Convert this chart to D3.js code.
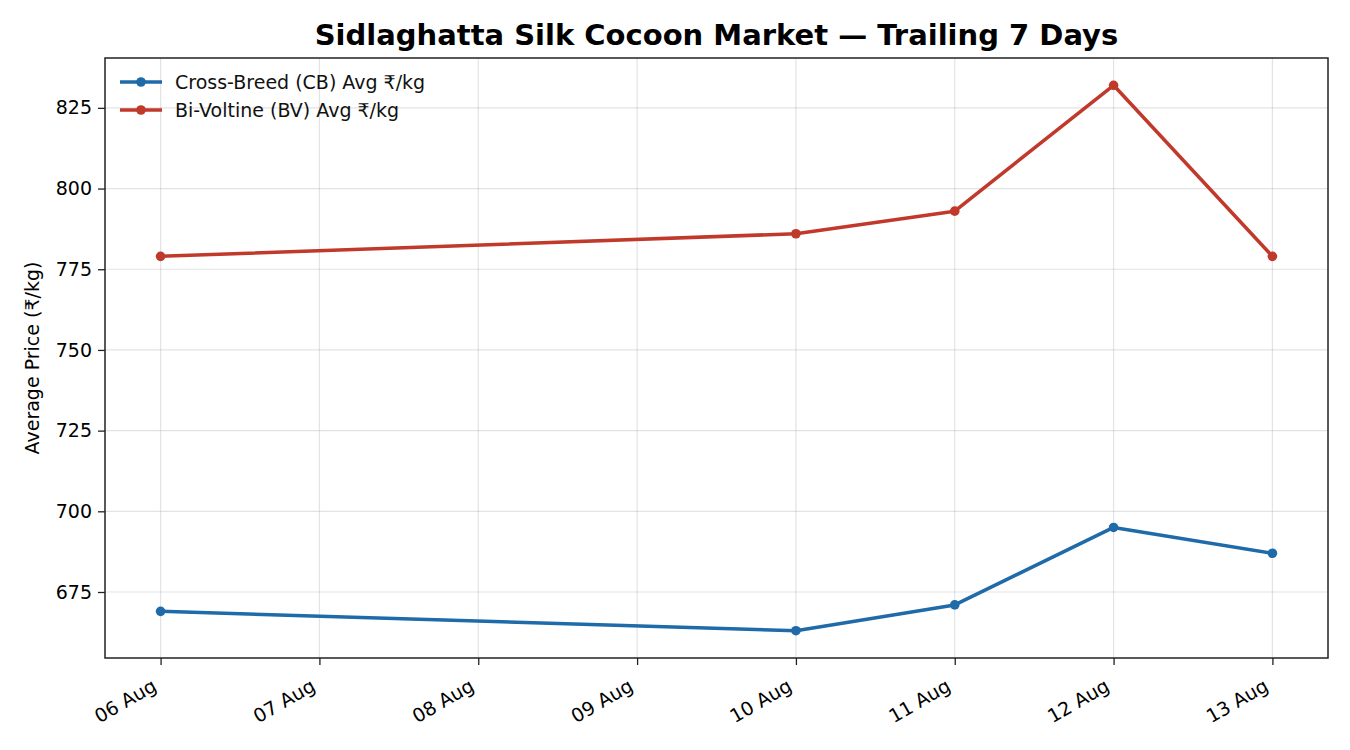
<!DOCTYPE html>
<html>
<head>
<meta charset="utf-8">
<script src="https://cdn.jsdelivr.net/npm/d3@7"></script>
<style>
  body { margin: 0; background: #fff; }
  svg, svg text { font-family: "DejaVu Sans", sans-serif; }
</style>
</head>
<body>
<svg id="chart"></svg>
<script>
// data
const dates = ["2024-08-06", "2024-08-10", "2024-08-11", "2024-08-12", "2024-08-13"];
const cbAvg = [669, 663, 671, 695, 687];
const bvAvg = [779, 786, 793, 832, 779];
const yTicks = [675, 700, 725, 750, 775, 800, 825];
const seriesNames = ["Cross-Breed (CB) Avg ₹/kg", "Bi-Voltine (BV) Avg ₹/kg"];
const seriesColors = ["#1f6aa8", "#c0392b"];

const width = 1350, height = 750;
const margin = { top: 58, right: 22, bottom: 92, left: 105 };
const innerW = width - margin.left - margin.right;
const innerH = height - margin.top - margin.bottom;
const fontSize = "19px";

const parse = d3.timeParse("%Y-%m-%d");
const days = dates.map(parse);

const series = [cbAvg, bvAvg].map((vals, i) => ({
    name: seriesNames[i],
    color: seriesColors[i],
    values: vals.map((v, j) => ({ date: days[j], value: v }))
}));

const svg = d3.select("#chart").attr("width", width).attr("height", height);

// matplotlib-like 5% padding on both axes
const xExt = d3.extent(days);
const xPad = (xExt[1] - xExt[0]) * 0.05;
const x = d3.scaleTime()
    .domain([new Date(+xExt[0] - xPad), new Date(+xExt[1] + xPad)])
    .range([0, innerW]);

const allVals = cbAvg.concat(bvAvg);
const yMin = d3.min(allVals), yMax = d3.max(allVals);
const yPad = (yMax - yMin) * 0.05;
const y = d3.scaleLinear()
    .domain([yMin - yPad, yMax + yPad])
    .range([innerH, 0]);

const xTicks = d3.timeDay.range(xExt[0], d3.timeDay.offset(xExt[1], 1));

const g = svg.append("g").attr("transform", `translate(${margin.left},${margin.top})`);

// grid
g.append("g")
    .selectAll("line")
    .data(xTicks)
    .enter().append("line")
    .attr("x1", d => x(d)).attr("x2", d => x(d))
    .attr("y1", 0).attr("y2", innerH)
    .attr("stroke", "#b0b0b0").attr("stroke-opacity", 0.35).attr("stroke-width", 1.2);

g.append("g")
    .selectAll("line")
    .data(yTicks)
    .enter().append("line")
    .attr("x1", 0).attr("x2", innerW)
    .attr("y1", d => y(d)).attr("y2", d => y(d))
    .attr("stroke", "#b0b0b0").attr("stroke-opacity", 0.35).attr("stroke-width", 1.2);

// axes
const xAxis = g.append("g")
    .attr("transform", `translate(0,${innerH})`)
    .call(d3.axisBottom(x).tickValues(xTicks).tickFormat(d3.timeFormat("%d %b")).tickSize(7).tickSizeOuter(0));
xAxis.attr("font-family", null).attr("font-size", null);
xAxis.select(".domain").remove();
xAxis.selectAll("line").attr("stroke", "#222").attr("stroke-width", 1.3);
xAxis.selectAll("text")
    .attr("font-size", fontSize)
    .attr("fill", "#000")
    .attr("dy", null)
    .attr("y", 0)
    .attr("transform", "translate(-6,27) rotate(-30)")
    .style("text-anchor", "end")
    .attr("dominant-baseline", "middle");

const yAxis = g.append("g")
    .call(d3.axisLeft(y).tickValues(yTicks).tickSize(7).tickSizeOuter(0));
yAxis.attr("font-family", null).attr("font-size", null);
yAxis.select(".domain").remove();
yAxis.selectAll("line").attr("stroke", "#222").attr("stroke-width", 1.3);
yAxis.selectAll("text").attr("font-size", fontSize).attr("fill", "#000").attr("x", -13);

// frame
g.append("rect")
    .attr("width", innerW).attr("height", innerH)
    .attr("fill", "none").attr("stroke", "#222").attr("stroke-width", 1.5);

// lines
const line = d3.line().x(d => x(d.date)).y(d => y(d.value));

series.forEach(s => {
    g.append("path")
        .datum(s.values)
        .attr("fill", "none")
        .attr("stroke", s.color)
        .attr("stroke-width", 3.5)
        .attr("stroke-linejoin", "round")
        .attr("d", line);
    g.selectAll(null)
        .data(s.values)
        .enter().append("circle")
        .attr("cx", d => x(d.date))
        .attr("cy", d => y(d.value))
        .attr("r", 4.8)
        .attr("fill", s.color);
});

// legend
const legend = g.append("g").attr("transform", "translate(15,24)");
series.forEach((s, i) => {
    const row = legend.append("g").attr("transform", `translate(0,${i * 28})`);
    row.append("line").attr("x1", 0).attr("x2", 42).attr("y1", 0).attr("y2", 0)
        .attr("stroke", s.color).attr("stroke-width", 3.5);
    row.append("circle").attr("cx", 21).attr("cy", 0).attr("r", 4.8).attr("fill", s.color);
    row.append("text").attr("x", 55).attr("y", 0).attr("dy", "0.35em")
        .attr("font-size", fontSize).attr("fill", "#111").text(s.name);
});

// title and y label
svg.append("text")
    .attr("x", margin.left + innerW / 2).attr("y", 45)
    .attr("text-anchor", "middle")
    .attr("font-size", "29px").attr("font-weight", "bold")
    .text("Sidlaghatta Silk Cocoon Market — Trailing 7 Days");

svg.append("text")
    .attr("transform", `translate(39,${margin.top + innerH / 2}) rotate(-90)`)
    .attr("text-anchor", "middle")
    .attr("font-size", fontSize)
    .text("Average Price (₹/kg)");
</script>
</body>
</html>
